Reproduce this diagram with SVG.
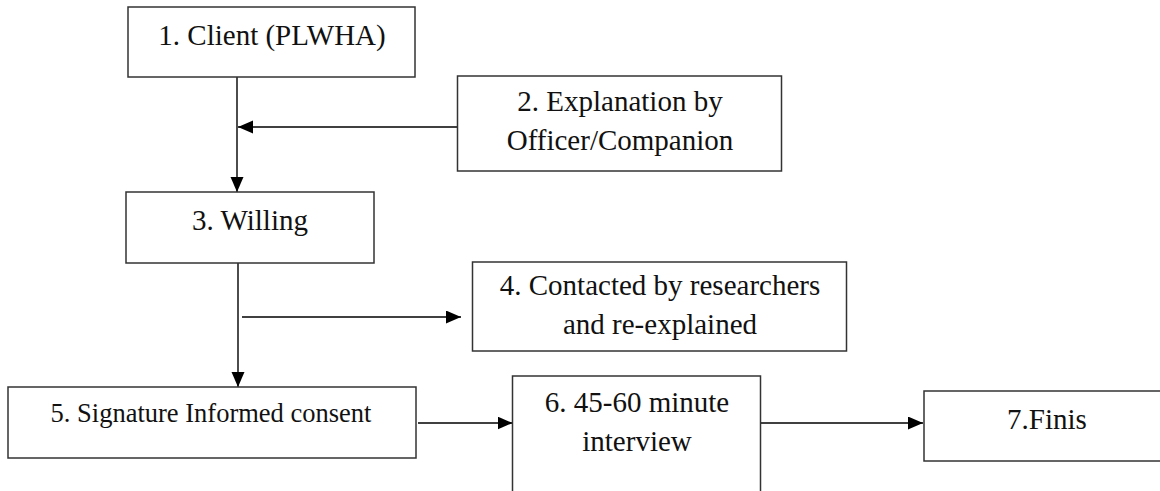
<svg xmlns="http://www.w3.org/2000/svg" width="1160" height="491" viewBox="0 0 1160 491">
  <style>
    .box { fill: #ffffff; stroke: #333333; stroke-width: 1.5; }
    .lbl { font-family: "Liberation Serif", "Times New Roman", serif; font-size: 29px; fill: #111111; text-anchor: middle; }
    .sm { font-size: 26.5px; }
    .conn { stroke: #000000; stroke-width: 1.4; fill: none; marker-end: url(#arr); }
  </style>
  <defs>
    <marker id="arr" markerUnits="userSpaceOnUse" markerWidth="16" markerHeight="14" refX="15" refY="6.5" orient="auto">
      <path d="M0,0 L15,6.5 L0,13 z" fill="#000000"/>
    </marker>
  </defs>
  <rect width="1160" height="491" fill="#ffffff"/>
  <g id="connectors">
    <line class="conn" x1="237" y1="77" x2="237" y2="192"/>
    <line class="conn" x1="457.5" y1="127" x2="238" y2="127"/>
    <line class="conn" x1="238" y1="263" x2="238" y2="387"/>
    <line class="conn" x1="242" y1="317" x2="461" y2="317"/>
    <line class="conn" x1="418" y1="423" x2="512.5" y2="423"/>
    <line class="conn" x1="761" y1="423" x2="923" y2="423"/>
  </g>
  <g id="node1">
    <rect class="box" x="128" y="7" width="287" height="70"/>
    <text class="lbl" x="272" y="45">1. Client (PLWHA)</text>
  </g>
  <g id="node2">
    <rect class="box" x="457.5" y="76" width="324" height="95"/>
    <text class="lbl" x="620" y="111">2. Explanation by</text>
    <text class="lbl" x="620" y="150">Officer/Companion</text>
  </g>
  <g id="node3">
    <rect class="box" x="126" y="192" width="248" height="71"/>
    <text class="lbl" x="250" y="230">3. Willing</text>
  </g>
  <g id="node4">
    <rect class="box" x="472.5" y="262" width="374" height="89"/>
    <text class="lbl" x="660" y="295">4. Contacted by researchers</text>
    <text class="lbl" x="660" y="334">and re-explained</text>
  </g>
  <g id="node5">
    <rect class="box" x="8" y="387" width="408" height="71"/>
    <text class="lbl sm" x="211" y="422">5. Signature Informed consent</text>
  </g>
  <g id="node6">
    <rect class="box" x="512.5" y="376" width="248" height="130"/>
    <text class="lbl" x="637" y="412">6. 45-60 minute</text>
    <text class="lbl" x="637" y="451">interview</text>
  </g>
  <g id="node7">
    <rect class="box" x="924" y="391" width="260" height="70"/>
    <text class="lbl" x="1047" y="429">7.Finis</text>
  </g>
</svg>
